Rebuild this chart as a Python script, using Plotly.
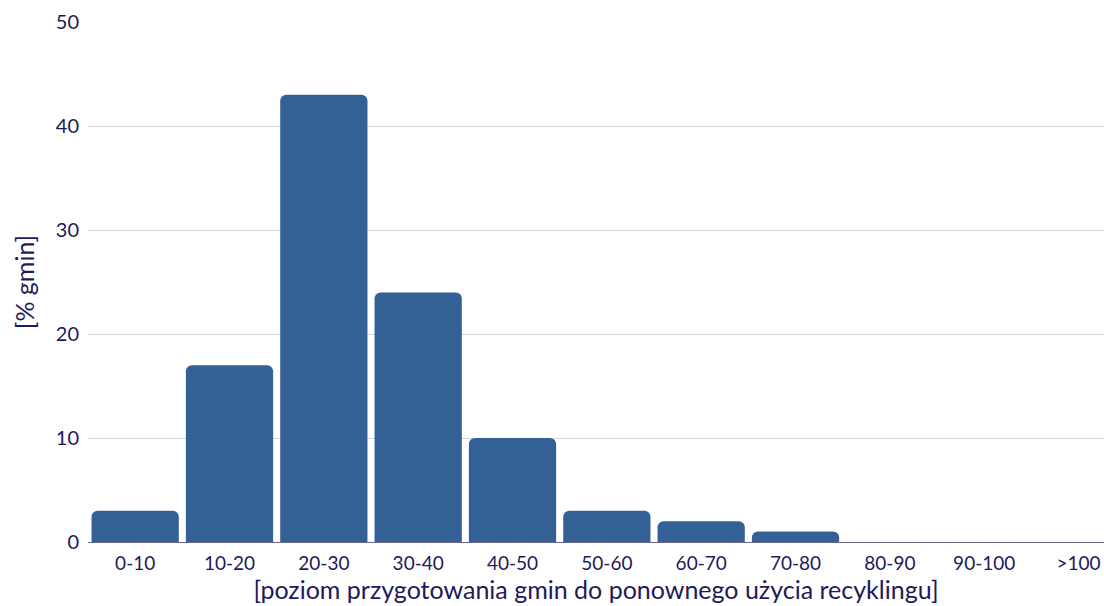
import plotly.graph_objects as go

categories = ["0-10", "10-20", "20-30", "30-40", "40-50", "50-60",
              "60-70", "70-80", "80-90", "90-100", ">100"]
values = [3, 17, 43, 24, 10, 3, 2, 1, 0, 0, 0]

text_color = "#1f1a5a"

fig = go.Figure(go.Bar(x=categories, y=values, marker_color="#336196",
                       marker_line_width=0))

fig.update_layout(
    width=1104, height=606,
    margin=dict(l=88, r=0, t=22, b=64),
    plot_bgcolor="white", paper_bgcolor="white",
    font=dict(family="Lato, sans-serif", color=text_color, size=20),
    bargap=0.075,
    barcornerradius=6,
    showlegend=False,
)
fig.update_xaxes(
    title=dict(text="[poziom przygotowania gmin do ponownego użycia recyklingu]",
               font=dict(size=25), standoff=6),
    range=[-0.5, 10.27],
    showline=True, linecolor="#6a6890", linewidth=1,
    ticks="", tickfont=dict(size=19), ticklabelstandoff=4,
    automargin=False,
)
fig.update_yaxes(
    title=dict(text="[% gmin]", font=dict(size=25), standoff=14),
    range=[0, 50], dtick=10,
    gridcolor="#d6d6e2", gridwidth=1,
    zeroline=False, ticks="", tickfont=dict(size=20), ticklabelstandoff=8,
    automargin=False,
)

# drop the default body margin so the figure fills the window exactly
fig.write_html("out.html", config={"displayModeBar": False},
               post_script="document.body.style.margin='0';"
               "document.body.style.overflow='hidden';")
